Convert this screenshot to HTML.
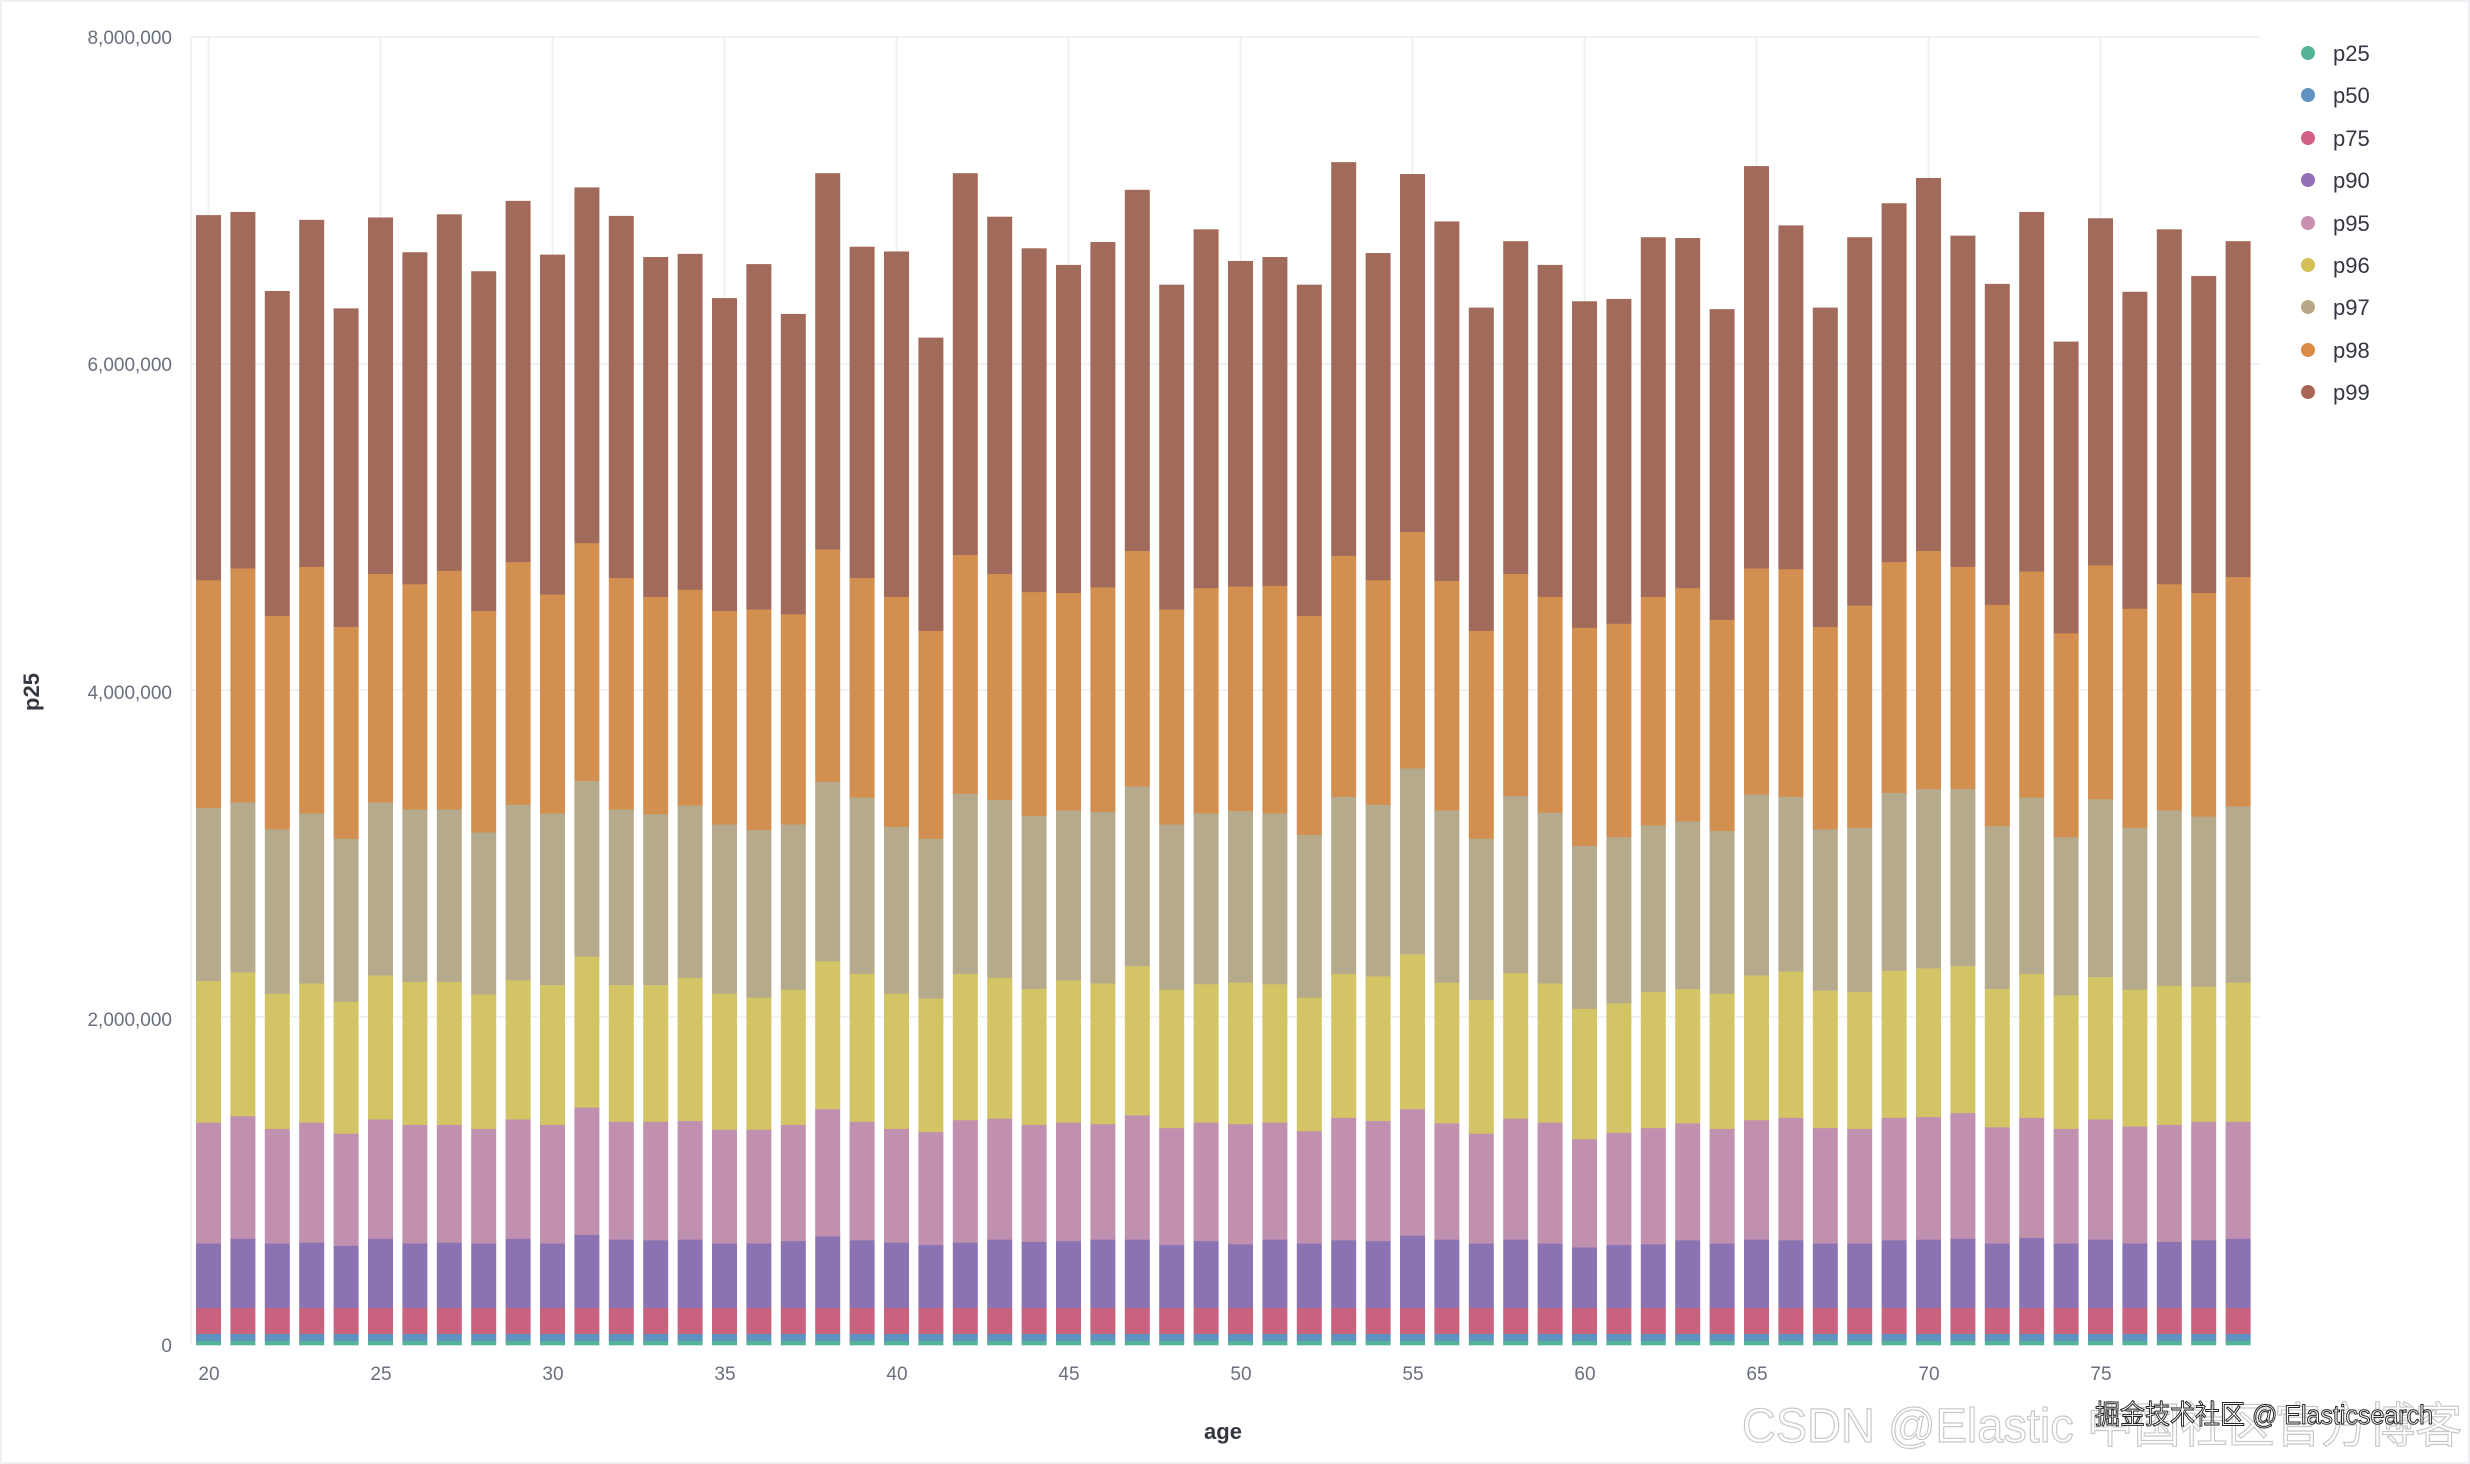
<!DOCTYPE html>
<html><head><meta charset="utf-8"><style>
html,body{margin:0;padding:0;background:#fff;}
svg{display:block;}
text{font-family:"Liberation Sans","Noto Sans CJK SC",sans-serif;}
</style></head><body>
<svg id="s" width="2470" height="1464" viewBox="0 0 2470 1464" xmlns="http://www.w3.org/2000/svg">
<rect x="0" y="0" width="2470" height="1464" fill="#fff"/>
<rect x="0.5" y="0.5" width="2469" height="1463" fill="none" stroke="#eef0f3" stroke-width="3"/>
<g id="grid" stroke="#eceef2" stroke-width="1.5"></g>
<g id="bars"></g>
<g fill="#69707d" font-size="19" text-anchor="end">
<text x="172" y="44">8,000,000</text>
<text x="172" y="371">6,000,000</text>
<text x="172" y="699">4,000,000</text>
<text x="172" y="1026">2,000,000</text>
<text x="172" y="1352">0</text>
</g>
<text transform="translate(39,692) rotate(-90)" text-anchor="middle" font-size="22" font-weight="bold" fill="#343741">p25</text>
<g fill="#69707d" font-size="19" text-anchor="middle">
<text x="209" y="1380">20</text><text x="381" y="1380">25</text><text x="553" y="1380">30</text>
<text x="725" y="1380">35</text><text x="897" y="1380">40</text><text x="1069" y="1380">45</text>
<text x="1241" y="1380">50</text><text x="1413" y="1380">55</text><text x="1585" y="1380">60</text>
<text x="1757" y="1380">65</text><text x="1929" y="1380">70</text><text x="2101" y="1380">75</text>
</g>
<text x="1223" y="1439" text-anchor="middle" font-size="22" font-weight="bold" fill="#343741">age</text>
<g font-size="22" fill="#343741">
<circle cx="2308" cy="53" r="7" fill="#54b399"/><text x="2333" y="61">p25</text>
<circle cx="2308" cy="95" r="7" fill="#6092c0"/><text x="2333" y="103">p50</text>
<circle cx="2308" cy="138" r="7" fill="#d36086"/><text x="2333" y="146">p75</text>
<circle cx="2308" cy="180" r="7" fill="#9170b8"/><text x="2333" y="188">p90</text>
<circle cx="2308" cy="223" r="7" fill="#ca8eae"/><text x="2333" y="231">p95</text>
<circle cx="2308" cy="265" r="7" fill="#d6bf57"/><text x="2333" y="273">p96</text>
<circle cx="2308" cy="307" r="7" fill="#b9a888"/><text x="2333" y="315">p97</text>
<circle cx="2308" cy="350" r="7" fill="#da8b45"/><text x="2333" y="358">p98</text>
<circle cx="2308" cy="392" r="7" fill="#aa6556"/><text x="2333" y="400">p99</text>
</g>
<text x="1742" y="1442" font-size="48" fill="#fff" stroke="#c8c8c8" stroke-width="1.2" textLength="720" lengthAdjust="spacingAndGlyphs">CSDN @Elastic 中国社区官方博客</text>
<text x="2095" y="1424" font-size="27" fill="#fff" stroke="#222" stroke-width="1" textLength="338" lengthAdjust="spacingAndGlyphs">掘金技术社区 @ Elasticsearch</text>
</svg>
<script>
var D=[
[95,557,845,1064,1243,1396],[91,542,838,1053,1235,1390],[191,602,872,1080,1251,1396],[101,540,852,1067,1243,1395],[213,616,884,1090,1257,1399],
[98,549,838,1057,1239,1390],[142,562,847,1065,1246,1396],[94,545,847,1065,1246,1395],[166,596,876,1081,1251,1396],[77,534,841,1063,1239,1390],
[145,575,852,1069,1246,1396],[60,510,811,1033,1224,1385],[96,554,847,1069,1242,1391],[148,578,853,1069,1242,1392],[144,569,842,1060,1241,1391],
[200,596,866,1080,1252,1396],[157,594,873,1085,1252,1396],[220,600,866,1075,1246,1393],[42,518,812,1039,1226,1387],[135,554,832,1055,1242,1392],
[141,578,869,1080,1251,1395],[250,621,884,1086,1255,1398],[42,525,827,1055,1240,1395],[97,549,835,1060,1238,1391],[137,572,855,1074,1246,1394],
[158,573,848,1063,1243,1393],[129,566,850,1067,1245,1391],[63,520,818,1045,1234,1391],[183,594,866,1075,1250,1398],[113,567,852,1068,1243,1393],
[153,565,849,1066,1245,1397],[148,564,852,1068,1243,1391],[183,602,879,1085,1254,1396],[28,526,831,1055,1237,1392],[143,557,841,1058,1241,1393],
[43,496,795,1030,1226,1386],[103,558,848,1066,1244,1391],[212,621,884,1088,1257,1396],[128,549,830,1054,1238,1391],[158,578,851,1067,1243,1396],
[204,617,893,1099,1264,1401],[201,612,882,1092,1256,1398],[123,578,867,1078,1250,1397],[124,567,862,1074,1244,1392],[214,607,874,1080,1251,1396],
[33,542,828,1057,1240,1391],[108,543,831,1052,1237,1392],[212,616,872,1076,1250,1396],[123,589,870,1078,1251,1396],[80,534,826,1051,1237,1392],
[48,520,821,1048,1236,1391],[121,540,821,1045,1231,1390],[182,588,868,1074,1249,1396],[91,546,832,1055,1237,1389],[255,624,882,1082,1251,1396],
[99,538,834,1059,1239,1391],[192,593,870,1075,1248,1396],[113,562,848,1070,1246,1394],[172,573,856,1071,1242,1392],[128,553,843,1066,1242,1390]];
var C=["#a26a5a","#d28f4f","#b6aa8c","#d3c565","#c290af","#8a72b3","#c9627f","#6092c0","#54b399"];
var ns="http://www.w3.org/2000/svg",g=document.getElementById("bars"),gr=document.getElementById("grid");
function R(p,x,y,w,h,f){var r=document.createElementNS(ns,"rect");r.setAttribute("x",x);r.setAttribute("y",y);r.setAttribute("width",w);r.setAttribute("height",Math.max(0,h));r.setAttribute("fill",f);p.appendChild(r);}
function L(x1,y1,x2,y2){var l=document.createElementNS(ns,"line");l.setAttribute("x1",x1);l.setAttribute("y1",y1);l.setAttribute("x2",x2);l.setAttribute("y2",y2);gr.appendChild(l);}
L(191,37,191,1345);
for(var k=0;k<12;k++){var cx=208.5+k*5*34.4;L(cx,37,cx,1345);}
[37,364,690,1017].forEach(function(y){L(191,y,2260,y);});
var zero=1345;
for(var i=0;i<60;i++){
 var x=196+i*34.4,d=D[i];
 var ys=d.map(function(z){return 140+z/1.265;});
 ys.push(1308,1334,1341,zero);
 for(var j=0;j<9;j++){R(g,x,ys[j],25,ys[j+1]-ys[j]+0.3,C[j]);}
}
</script>
</body></html>
